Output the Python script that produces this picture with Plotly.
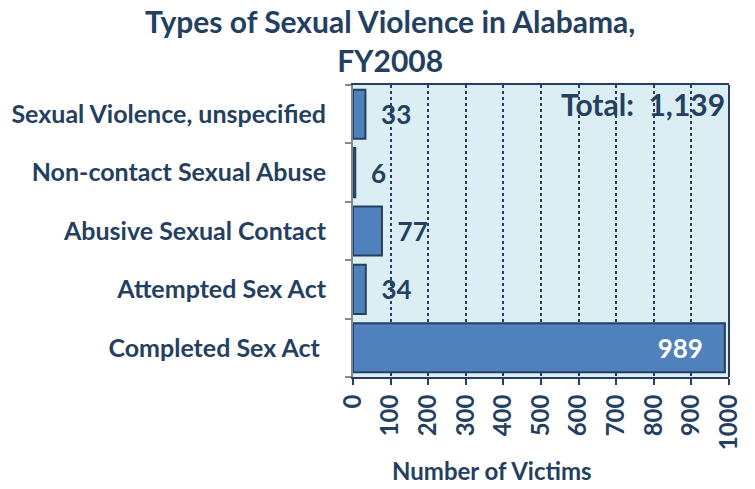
import plotly.graph_objects as go

categories = ["Completed Sex Act ", "Attempted Sex Act", "Abusive Sexual Contact",
              "Non-contact Sexual Abuse", "Sexual Violence, unspecified"]
victims = [989, 34, 77, 6, 33]
tick_vals = [0, 100, 200, 300, 400, 500, 600, 700, 800, 900, 1000]
tick_text = [str(v) for v in tick_vals]
total = sum(victims)

NAVY = "#243F60"
FONT = "Lato"

# page body has an 8px margin: the figure is sized to fill the remaining window
W, H = 747, 481
L, R, T, B = 345, 26, 77, 112
PW = W - L - R

positions = ["inside" if v > 500 else "outside" for v in victims]
templates = ["%{x}   " if v > 500 else "  %{x}" for v in victims]

fig = go.Figure(go.Bar(
    x=victims, y=categories, orientation="h",
    marker=dict(color="#4F81BD", line=dict(color=NAVY, width=2)),
    text=victims, texttemplate=templates, textposition=positions,
    insidetextanchor="end",
    insidetextfont=dict(color="white", size=26, family=FONT),
    outsidetextfont=dict(color=NAVY, size=26, family=FONT),
    textfont=dict(size=26, family=FONT, weight="bold"),
    cliponaxis=False,
))

fig.update_layout(
    width=W, height=H,
    margin=dict(l=L, r=R, t=T, b=B, autoexpand=False),
    paper_bgcolor="white", plot_bgcolor="#DAEEF3",
    bargap=0.16, showlegend=False,
    font=dict(family=FONT, color=NAVY, size=18, weight="bold"),
    annotations=[
        dict(text="Types of Sexual Violence in Alabama,<br>FY2008", xref="paper", yref="paper",
             x=(382 - L) / PW, y=1, yshift=45, xanchor="center", yanchor="middle",
             showarrow=False, font=dict(size=30, color=NAVY, family=FONT, weight="bold")),
        dict(text="Total:  " + f"{total:,}", xref="paper", yref="paper",
             x=1, y=1, xshift=-2, yshift=-19, xanchor="right", yanchor="middle",
             showarrow=False, font=dict(size=30, color=NAVY, family=FONT, weight="bold")),
        dict(text="Number of Victims", xref="paper", yref="paper",
             x=(484 - L) / PW, y=0, yshift=-93, xanchor="center", yanchor="middle",
             showarrow=False, font=dict(size=24, color=NAVY, family=FONT, weight="bold")),
    ],
    shapes=[
        dict(type="line", xref="x domain", yref="y domain", x0=1, x1=1, y0=0, y1=1,
             line=dict(color=NAVY, width=2)),
    ],
)

fig.update_xaxes(
    range=[0, 1000], tickvals=tick_vals, ticktext=tick_text, tickangle=-90,
    tickfont=dict(size=24, color=NAVY, family=FONT, weight="bold"),
    showgrid=True, gridcolor=NAVY, griddash="dot", gridwidth=1.5,
    showline=True, linecolor=NAVY, linewidth=2, mirror=True,
    ticks="outside", ticklen=6, tickwidth=2, tickcolor=NAVY,
    zeroline=False, fixedrange=True, automargin=False,
)
fig.update_yaxes(
    tickfont=dict(size=25, color=NAVY, family=FONT, weight="bold"),
    showline=True, linecolor="#888888", linewidth=2,
    ticks="outside", ticklen=6, tickwidth=1.5, tickcolor="#888888",
    tickson="boundaries", ticklabelstandoff=20, showgrid=False,
    fixedrange=True, automargin=False,
)

fig.write_html("out.html")
